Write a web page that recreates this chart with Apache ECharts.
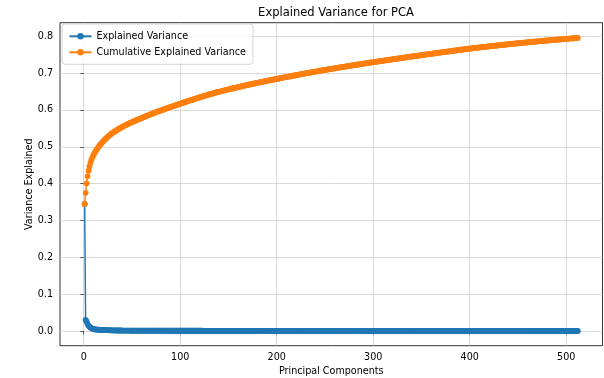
<!DOCTYPE html>
<html><head><meta charset="utf-8">
<script src="https://cdn.jsdelivr.net/npm/echarts@6/dist/echarts.min.js"></script>
<style>html,body{margin:0;padding:0;background:#fff}#c{width:604px;height:378px}</style>
</head><body><div id="c"></div>
<script>
// Explained variance ratio per principal component
const explainedVariance = [
0.345,0.030,0.026,0.019,0.015,0.012,0.010,0.008,0.0065,0.0058,
0.0048,0.0045,0.0042,0.0040,0.0038,0.0036,0.0032,0.0031,0.0030,0.0029,
0.0028,0.0027,0.0026,0.0025,0.0024,0.0023,0.0022,0.0021,0.0020,0.0019,
0.0018,0.0018,0.0017,0.0017,0.0016,0.0016,0.0015,0.0015,0.0015,0.0014,
0.0014,0.0014,0.0013,0.0013,0.0013,0.0013,0.0013,0.0012,0.0012,0.0012,
0.0012,0.0012,0.0012,0.0011,0.0011,0.0011,0.0011,0.0011,
0.00108,0.00108,0.00108,0.00108,0.00108,0.00108,0.00108,0.00108,0.00108,0.00108,
0.00100,0.00100,0.00100,0.00100,0.00100,0.00100,0.00100,0.00100,0.00100,0.00100,
0.00094,0.00094,0.00094,0.00094,0.00094,0.00094,0.00094,0.00094,0.00094,0.00094,
0.00090,0.00090,0.00090,0.00090,0.00090,0.00090,0.00090,0.00090,0.00090,0.00090,0.00090,
0.00088,0.00088,0.00088,0.00088,0.00088,0.00088,0.00086,0.00086,0.00086,0.00086,0.00086,0.00086,
0.00084,0.00084,0.00084,0.00084,0.00084,0.00084,0.00081,0.00081,0.00081,0.00081,0.00081,0.00081,
0.00079,0.00079,0.00079,0.00079,0.00079,0.00079,0.00079,0.00076,0.00076,0.00076,0.00076,0.00076,0.00076,0.00076,
0.00066,0.00066,0.00066,0.00066,0.00066,0.00066,0.00066,0.00066,0.00066,0.00063,0.00063,0.00063,0.00063,0.00063,0.00063,0.00063,0.00063,0.00063,
0.00061,0.00061,0.00061,0.00061,0.00061,0.00061,0.00061,0.00061,0.00061,0.00059,0.00059,0.00059,0.00059,0.00059,0.00059,0.00059,0.00059,0.00059,
0.00056,0.00056,0.00056,0.00056,0.00056,0.00056,0.00056,0.00056,0.00056,0.00054,0.00054,0.00054,0.00054,0.00054,0.00054,0.00054,0.00054,0.00054,
0.00052,0.00052,0.00052,0.00052,0.00052,0.00052,0.00052,0.00052,0.00052,
0.00051,0.00051,0.00051,0.00051,0.00051,0.00051,0.00051,0.00051,0.00051,0.00051,
0.00050,0.00050,0.00050,0.00050,0.00050,0.00050,0.00050,0.00050,0.00050,0.00050,
0.00049,0.00049,0.00049,0.00049,0.00049,0.00049,0.00049,0.00049,0.00049,0.00049,
0.00047,0.00047,0.00047,0.00047,0.00047,0.00047,0.00047,0.00047,0.00047,0.00047,
0.00046,0.00046,0.00046,0.00046,0.00046,0.00046,0.00046,0.00046,0.00046,0.00046,
0.00044,0.00044,0.00044,0.00044,0.00044,0.00044,0.00044,0.00044,0.00044,0.00044,
0.00043,0.00043,0.00043,0.00043,0.00043,0.00043,0.00043,0.00043,0.00043,0.00043,
0.00042,0.00042,0.00042,0.00042,0.00042,0.00042,0.00042,0.00042,0.00042,0.00042,
0.00041,0.00041,0.00041,0.00041,0.00041,0.00041,0.00041,0.00041,0.00041,0.00041,
0.00040,0.00040,0.00040,0.00040,0.00040,0.00040,0.00040,0.00040,0.00040,0.00040,
0.00039,0.00039,0.00039,0.00039,0.00039,0.00039,0.00039,0.00039,0.00039,0.00039,
0.00039,0.00039,0.00039,0.00039,0.00039,0.00039,0.00039,0.00039,0.00039,0.00039,
0.00038,0.00038,0.00038,0.00038,0.00038,0.00038,0.00038,0.00038,0.00038,0.00038,
0.00038,0.00038,0.00038,0.00038,0.00038,0.00038,0.00038,0.00038,0.00038,0.00038,
0.00037,0.00037,0.00037,0.00037,0.00037,0.00037,0.00037,0.00037,0.00037,0.00037,
0.00037,0.00037,0.00037,0.00037,0.00037,0.00037,0.00037,0.00037,0.00037,0.00037,
0.00036,0.00036,0.00036,0.00036,0.00036,0.00036,0.00036,0.00036,0.00036,0.00036,
0.00035,0.00035,0.00035,0.00035,0.00035,0.00035,0.00035,0.00035,0.00035,0.00035,
0.00035,0.00035,0.00035,0.00035,0.00035,0.00035,0.00035,0.00035,0.00035,0.00035,
0.00034,0.00034,0.00034,0.00034,0.00034,0.00034,0.00034,0.00034,0.00034,0.00034,
0.00031,0.00031,0.00031,0.00031,0.00031,0.00031,0.00031,0.00031,0.00031,0.00031,
0.00030,0.00030,0.00030,0.00030,0.00030,0.00030,0.00030,0.00030,0.00030,0.00030,
0.00029,0.00029,0.00029,0.00029,0.00029,0.00029,0.00029,0.00029,0.00029,0.00029,
0.00028,0.00028,0.00028,0.00028,0.00028,0.00028,0.00028,0.00028,0.00028,0.00028,
0.00027,0.00027,0.00027,0.00027,0.00027,0.00027,0.00027,0.00027,0.00027,0.00027,
0.00026,0.00026,0.00026,0.00026,0.00026,0.00026,0.00026,0.00026,0.00026,0.00026,
0.00025,0.00025,0.00025,0.00025,0.00025,0.00025,0.00025,0.00025,0.00025,0.00025,
0.00024,0.00024,0.00024,0.00024,0.00024,0.00024,0.00024,0.00024,0.00024,0.00024,
0.00023,0.00023,0.00023,0.00023,0.00023,0.00023,0.00023,0.00023,0.00023,0.00023,
0.00022,0.00022,0.00022,0.00022,0.00022,0.00022,0.00022,0.00022,0.00022,0.00022,
0.00021,0.00021,0.00021,0.00021,0.00021,0.00021,0.00020,0.00020,0.00020,0.00020,0.00020,0.00020
];
const xTicks = [0, 100, 200, 300, 400, 500];
const yTicks = [0.0, 0.1, 0.2, 0.3, 0.4, 0.5, 0.6, 0.7, 0.8];
const seriesNames = ['Explained Variance', 'Cumulative Explained Variance'];

// components numbered from 1; cumulative = running sum of explained variance
const components = explainedVariance.map((v, i) => i + 1);
const cumulativeVariance = [];
let running = 0;
for (const v of explainedVariance) { running += v; cumulativeVariance.push(running); }

const FONT = 'DejaVu Sans';
const chart = echarts.init(document.getElementById('c'), null, {renderer: 'canvas'});
chart.setOption({
  animation: false,
  backgroundColor: '#fff',
  title: {
    text: 'Explained Variance for PCA',
    left: 331, top: 2.5, textAlign: 'center',
    textStyle: {fontFamily: FONT, fontSize: 11.5, fontWeight: 'normal', color: '#000'}
  },
  legend: {
    orient: 'vertical', left: 62, top: 24,
    padding: [7.3, 7, 7, 6.5],
    itemWidth: 22, itemHeight: 8, itemGap: 6,
    backgroundColor: 'rgba(255,255,255,0.8)',
    borderColor: '#d6d6d6', borderWidth: 1, borderRadius: 3,
    textStyle: {fontFamily: FONT, fontSize: 9.6, color: '#000'},
    data: seriesNames
  },
  grid: {
    left: 60, right: 1.5, top: 22.7, bottom: 32.3,
    outerBoundsMode: 'none', containLabel: false,
    show: true, borderColor: '#333', borderWidth: 1, backgroundColor: 'transparent'
  },
  xAxis: {
    type: 'value', min: -24.55, max: 537.55,
    name: 'Principal Components', nameLocation: 'middle', nameGap: 20.5, nameMoveOverlap: false,
    nameTextStyle: {fontFamily: FONT, fontSize: 9.6, color: '#000'},
    axisLine: {show: false},
    axisTick: {show: true, customValues: xTicks, length: 3.4, lineStyle: {color: '#333', width: 0.8}},
    axisLabel: {customValues: xTicks, margin: 6.5, fontFamily: FONT, fontSize: 9.6, color: '#000'},
    splitLine: {show: true, lineStyle: {color: '#cfcfcf', width: 0.8}}
  },
  yAxis: {
    type: 'value', min: -0.0397, max: 0.8367,
    name: 'Variance Explained', nameLocation: 'middle', nameGap: 26, nameMoveOverlap: false,
    nameTextStyle: {fontFamily: FONT, fontSize: 9.6, color: '#000'},
    axisLine: {show: false},
    axisTick: {show: true, customValues: yTicks, length: 3.4, lineStyle: {color: '#333', width: 0.8}},
    axisLabel: {customValues: yTicks, margin: 7, fontFamily: FONT, fontSize: 9.6, color: '#000',
      formatter: v => v.toFixed(1)},
    splitLine: {show: true, lineStyle: {color: '#cfcfcf', width: 0.8}}
  },
  series: [
    {
      name: seriesNames[0], type: 'line',
      data: components.map((c, i) => [c, explainedVariance[i]]),
      symbol: 'circle', symbolSize: 5.8, showAllSymbol: true,
      lineStyle: {color: '#1f77b4', width: 1.44},
      itemStyle: {color: '#1f77b4'},
      emphasis: {disabled: true}
    },
    {
      name: seriesNames[1], type: 'line',
      data: components.map((c, i) => [c, cumulativeVariance[i]]),
      symbol: 'circle', symbolSize: 5.8, showAllSymbol: true,
      lineStyle: {color: '#ff7f0e', width: 1.44},
      itemStyle: {color: '#ff7f0e'},
      emphasis: {disabled: true}
    }
  ]
});
</script>
</body></html>
